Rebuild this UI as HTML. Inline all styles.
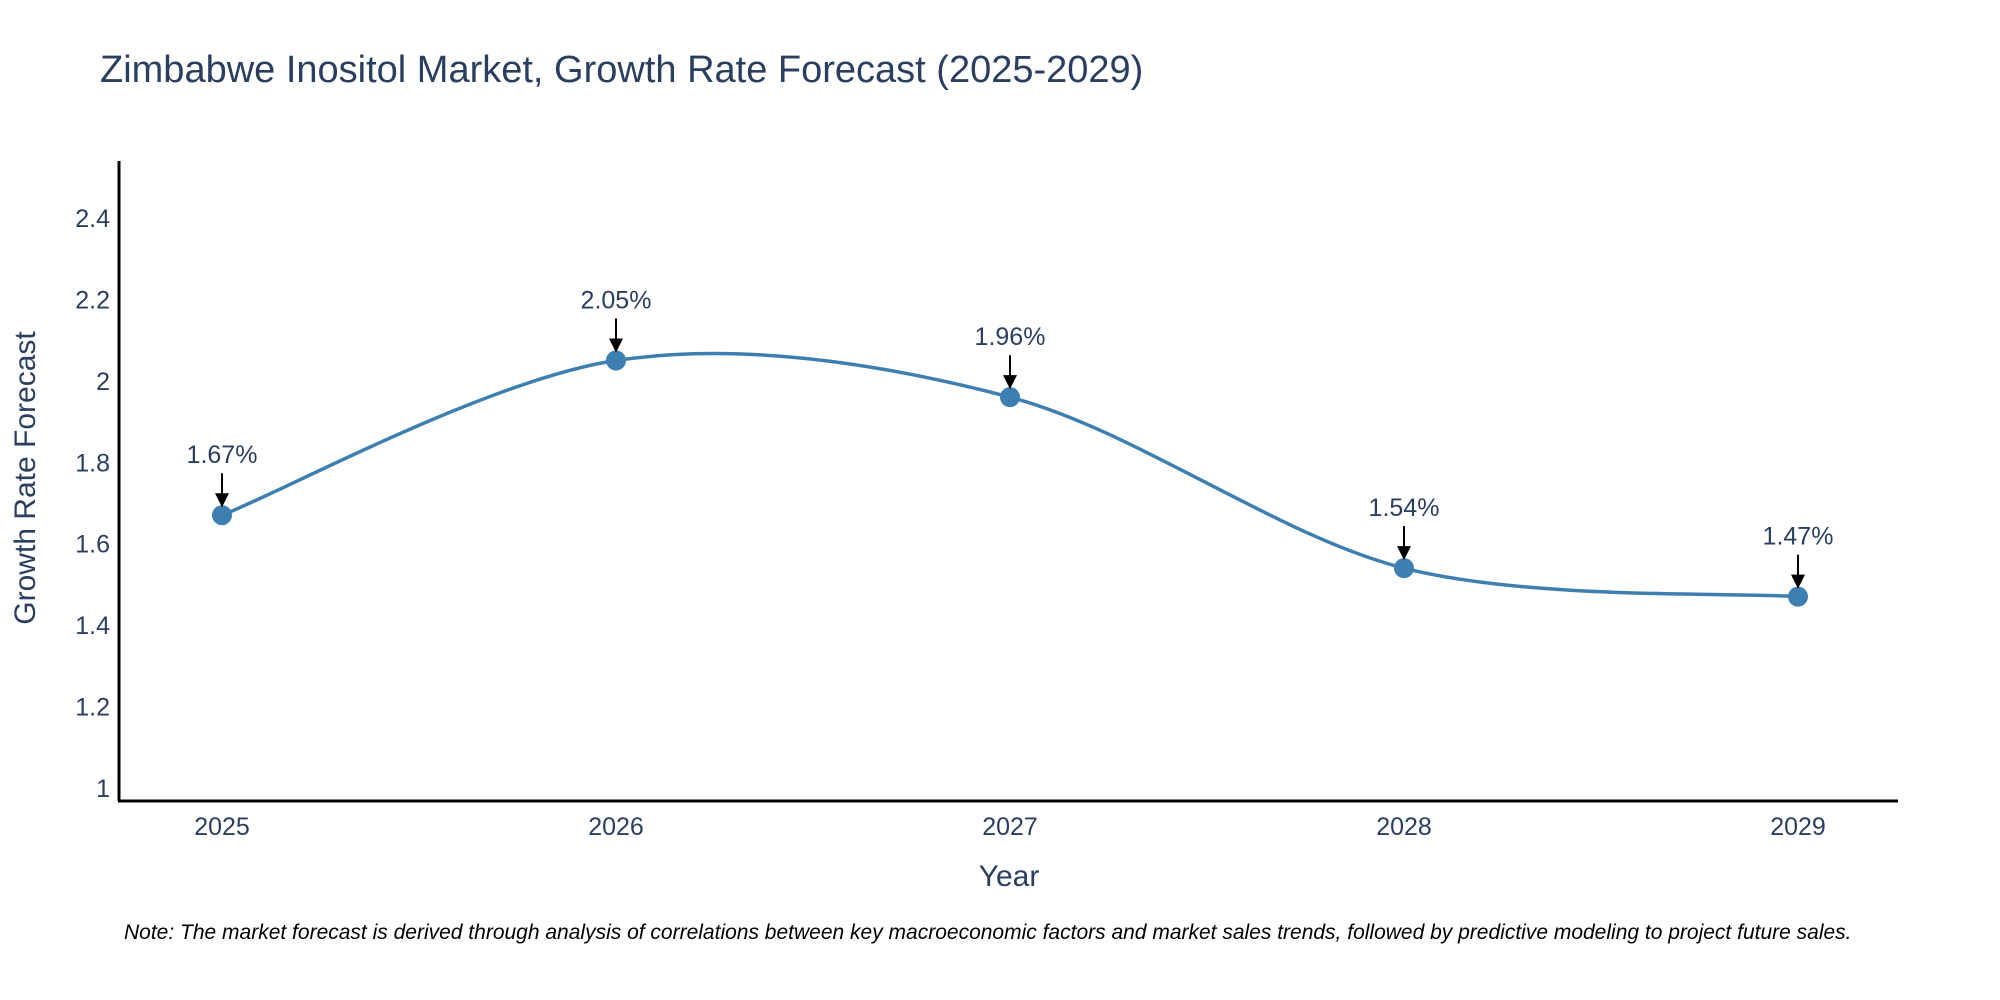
<!DOCTYPE html>
<html><head><meta charset="utf-8"><style>
body{margin:0;background:#fff;}
svg{display:block;font-family:"Liberation Sans",sans-serif;}
</style></head><body>
<svg id="chart" width="2000" height="1000">
<text x="100" y="82" font-size="38" fill="#2a3f5f">Zimbabwe Inositol Market, Growth Rate Forecast (2025-2029)</text>
<g id="yticks"></g>
<g id="xticks"></g>
<line x1="119" y1="161" x2="119" y2="801" stroke="#000" stroke-width="3"/>
<line x1="118" y1="801" x2="1898" y2="801" stroke="#000" stroke-width="3"/>
<text transform="translate(35,478) rotate(-90)" text-anchor="middle" font-size="30" fill="#2a3f5f">Growth Rate Forecast</text>
<text x="1009" y="886" text-anchor="middle" font-size="30" fill="#2a3f5f">Year</text>
<g id="series"></g>
<text x="124" y="939" font-size="21" font-style="italic" fill="#000">Note: The market forecast is derived through analysis of correlations between key macroeconomic factors and market sales trends, followed by predictive modeling to project future sales.</text>
</svg>
<script>
const years = [2025, 2026, 2027, 2028, 2029];
const values = [1.67, 2.05, 1.96, 1.54, 1.47];
const labels = ["1.67%", "2.05%", "1.96%", "1.54%", "1.47%"];
const yTicks = [1, 1.2, 1.4, 1.6, 1.8, 2, 2.2, 2.4];
const yTickLabels = ["1", "1.2", "1.4", "1.6", "1.8", "2", "2.2", "2.4"];

const NS = "http://www.w3.org/2000/svg";
function xs(v){ return 222 + (v - 2025) * (1798 - 222) / 4; }
function ys(v){ return 788 - (v - 1) * (788 - 218) / 1.4; }
function mk(tag, attrs, parent){ const e = document.createElementNS(NS, tag); for (const k in attrs) e.setAttribute(k, attrs[k]); parent.appendChild(e); return e; }

const yt = document.getElementById("yticks");
yTicks.forEach((t, i) => {
  const e = mk("text", {x: 110, y: ys(t) + 9, "text-anchor": "end", "font-size": "25", fill: "#2a3f5f"}, yt);
  
  
  e.textContent = yTickLabels[i];
});
const xt = document.getElementById("xticks");
years.forEach(y => {
  const e = mk("text", {x: xs(y), y: 835, "text-anchor": "middle", "font-size": "25", fill: "#2a3f5f"}, xt);
  
  
  e.textContent = String(y);
});

const g = document.getElementById("series");
const pts = years.map((y, i) => [xs(y), ys(values[i])]);
let d = "M" + pts[0][0] + "," + pts[0][1];
const s = 0.16;
for (let i = 0; i < pts.length - 1; i++) {
  const p0 = pts[Math.max(i - 1, 0)], p1 = pts[i], p2 = pts[i + 1], p3 = pts[Math.min(i + 2, pts.length - 1)];
  const c1 = [p1[0] + (p2[0] - p0[0]) * s, p1[1] + (p2[1] - p0[1]) * s];
  const c2 = [p2[0] - (p3[0] - p1[0]) * s, p2[1] - (p3[1] - p1[1]) * s];
  d += " C" + c1 + " " + c2 + " " + p2;
}
const line = mk("path", {d: d, fill: "none", stroke: "#3d7fb0", "stroke-width": "3.5"}, g);



pts.forEach((p, i) => {
  const c = mk("circle", {cx: p[0], cy: p[1], r: 10, fill: "#3d7fb0"}, g);
  
  
  const a = mk("line", {x1: p[0], y1: p[1] - 42, x2: p[0], y2: p[1] - 20, stroke: "#000", "stroke-width": "2"}, g);
  
  
  const h = mk("polygon", {points: (p[0]-7)+","+(p[1]-22)+" "+(p[0]+7)+","+(p[1]-22)+" "+p[0]+","+(p[1]-8), fill: "#000"}, g);
  
  
  const t = mk("text", {x: p[0], y: p[1] - 52, "text-anchor": "middle", "font-size": "25", fill: "#2a3f5f"}, g);
  
  
  t.textContent = labels[i];
});
</script>
</body></html>
